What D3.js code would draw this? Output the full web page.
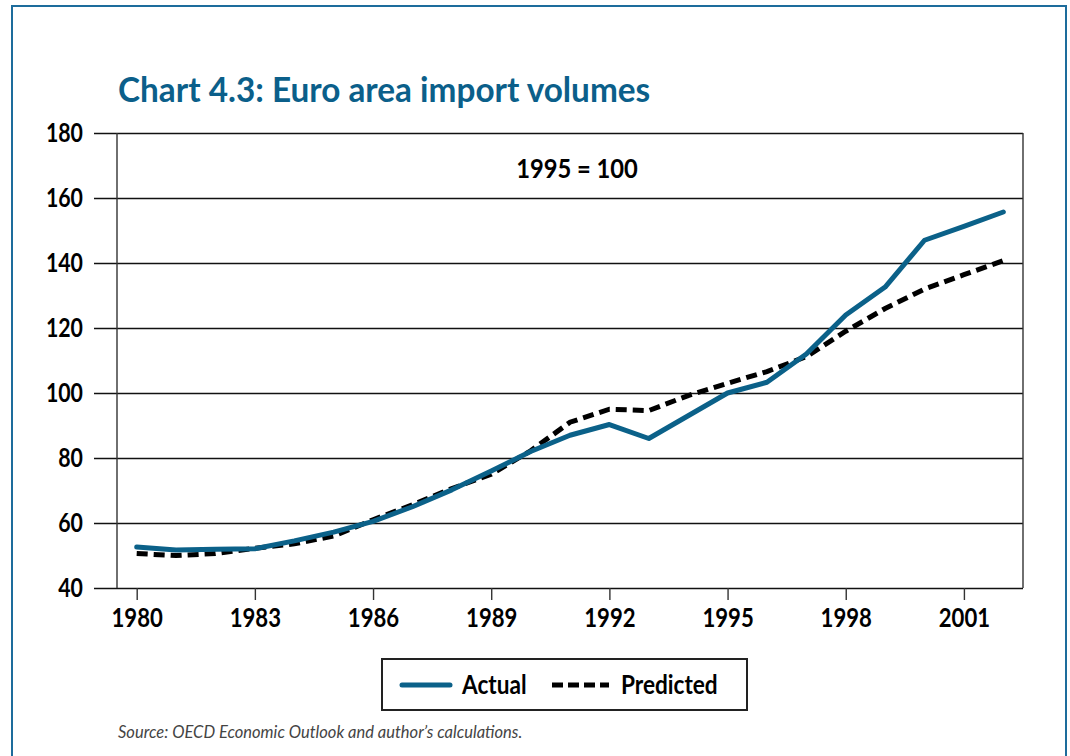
<!DOCTYPE html>
<html>
<head>
<meta charset="utf-8">
<script src="https://cdn.jsdelivr.net/npm/d3@7"></script>
<style>
  body { margin: 0; background: #fff; }
  .lbl { font-family: 'Lato', sans-serif; font-weight: bold; fill: #000; }
</style>
</head>
<body>
<div id="chart"></div>
<script>
// data
const years = d3.range(1980, 2003);
const actual = [52.6, 51.7, 51.9, 52.1, 54.5, 57.2, 60.5, 65, 70.2, 76, 82, 87, 90.3, 86, 93, 100, 103.3, 112, 124, 132.6, 147, 151.3, 155.7];
const predicted = [50.6, 50, 50.6, 52.2, 53.6, 56, 61, 65.6, 70.6, 75, 82.2, 91, 95, 94.6, 99.2, 103, 106.6, 111.2, 119, 126, 132, 136.4, 140.7];
const yTicks = [40, 60, 80, 100, 120, 140, 160, 180];
const xTicks = [1980, 1983, 1986, 1989, 1992, 1995, 1998, 2001];

const W = 1070, H = 756;
const plot = { left: 117, right: 1023, top: 133, bottom: 588 };

const svg = d3.select("#chart").append("svg")
    .attr("width", W)
    .attr("height", H);

// outer frame
svg.append("rect")
    .attr("x", 12).attr("y", 6)
    .attr("width", 1054).attr("height", 760)
    .attr("fill", "none")
    .attr("stroke", "#1d6c9c")
    .attr("stroke-width", 2);

// title
svg.append("text")
    .attr("class", "lbl")
    .attr("transform", "translate(118,102) scale(0.98,1)")
    .style("font-size", "34px")
    .style("fill", "#0b5f8a")
    .text("Chart 4.3: Euro area import volumes");

var x = d3.scaleLinear()
    .domain([1979.5, 2002.5])
    .range([plot.left, plot.right]);
var y = d3.scaleLinear()
    .domain([40, 180])
    .range([plot.bottom, plot.top]);

// gridlines (with the left tick stubs)
svg.append("g")
    .attr("transform", "translate(" + plot.right + ",0)")
    .call(d3.axisLeft(y).tickValues(yTicks).tickSize(plot.right - 94).tickFormat(""))
    .call(g => g.select(".domain").remove())
    .selectAll("line")
    .attr("stroke", "#111")
    .attr("stroke-width", 1.4);

// y labels
svg.append("g")
    .selectAll("text")
    .data(yTicks)
    .join("text")
    .attr("class", "lbl")
    .attr("transform", d => "translate(83," + (y(d) + 9) + ") scale(0.79,1)")
    .attr("text-anchor", "end")
    .style("font-size", "27px")
    .text(d => d);

// plot side borders
svg.append("line")
    .attr("x1", plot.left).attr("x2", plot.left)
    .attr("y1", plot.top).attr("y2", plot.bottom)
    .attr("stroke", "#333").attr("stroke-width", 1.4);
svg.append("line")
    .attr("x1", plot.right).attr("x2", plot.right)
    .attr("y1", plot.top).attr("y2", plot.bottom)
    .attr("stroke", "#333").attr("stroke-width", 1.4);

// x axis
var xAxis = svg.append("g")
    .attr("transform", "translate(0," + plot.bottom + ")")
    .call(d3.axisBottom(x).tickValues(xTicks).tickSize(12).tickSizeOuter(0).tickFormat(d3.format("d")));
xAxis.select(".domain").remove();
xAxis.selectAll("line").attr("stroke", "#333").attr("stroke-width", 1.4);
xAxis.selectAll("text")
    .attr("class", "lbl")
    .attr("y", 0)
    .attr("dy", 0)
    .attr("transform", "translate(0,39) scale(0.82,1)")
    .style("font-size", "27px")
    .style("font-family", null);

// index note
svg.append("text")
    .attr("class", "lbl")
    .attr("transform", "translate(577,178) scale(0.88,1)")
    .attr("text-anchor", "middle")
    .style("font-size", "27px")
    .text("1995 = 100");

var line = d3.line()
    .x((d, i) => x(years[i]))
    .y(d => y(d));

svg.append("path")
    .datum(predicted)
    .attr("d", line)
    .attr("fill", "none")
    .attr("stroke", "#000")
    .attr("stroke-width", 5)
    .attr("stroke-dasharray", "11,6");

svg.append("path")
    .datum(actual)
    .attr("d", line)
    .attr("fill", "none")
    .attr("stroke", "#0b6189")
    .attr("stroke-width", 5)
    .attr("stroke-linecap", "round")
    .attr("stroke-linejoin", "round");

// legend
var leg = svg.append("g");
leg.append("rect")
    .attr("x", 382).attr("y", 659)
    .attr("width", 365).attr("height", 51)
    .attr("fill", "#fff")
    .attr("stroke", "#222")
    .attr("stroke-width", 2);
leg.append("line")
    .attr("x1", 402).attr("x2", 450)
    .attr("y1", 685).attr("y2", 685)
    .attr("stroke", "#0b6189").attr("stroke-width", 5)
    .attr("stroke-linecap", "round");
leg.append("text")
    .attr("class", "lbl")
    .attr("transform", "translate(462,694) scale(0.87,1)")
    .style("font-size", "26px")
    .text("Actual");
leg.append("line")
    .attr("x1", 552).attr("x2", 609)
    .attr("y1", 685).attr("y2", 685)
    .attr("stroke", "#000").attr("stroke-width", 5)
    .attr("stroke-dasharray", "11,5");
leg.append("text")
    .attr("class", "lbl")
    .attr("transform", "translate(621,694) scale(0.87,1)")
    .style("font-size", "26px")
    .text("Predicted");

// source
svg.append("text")
    .attr("x", 118).attr("y", 738)
    .style("font-family", "Lato, sans-serif")
    .style("font-style", "italic")
    .style("font-size", "16.5px")
    .style("fill", "#444")
    .text("Source: OECD Economic Outlook and author\u2019s calculations.");
</script>
</body>
</html>
